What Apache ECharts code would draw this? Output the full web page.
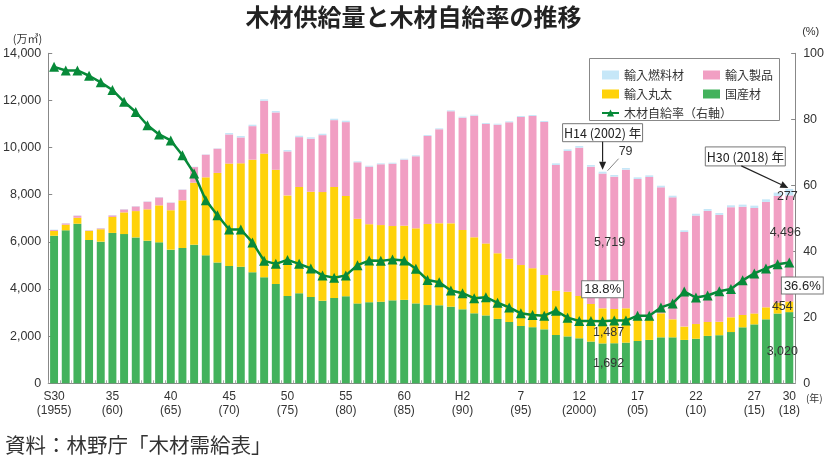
<!DOCTYPE html>
<html><head><meta charset="utf-8">
<script src="https://cdn.jsdelivr.net/npm/echarts@6/dist/echarts.min.js"></script>
<style>html,body{margin:0;padding:0;background:#fff}#c{width:827px;height:467px}</style>
</head><body><div id="c"></div>
<script>
const years = ['1955','1956','1957','1958','1959','1960','1961','1962','1963','1964','1965','1966','1967','1968','1969','1970','1971','1972','1973','1974','1975','1976','1977','1978','1979','1980','1981','1982','1983','1984','1985','1986','1987','1988','1989','1990','1991','1992','1993','1994','1995','1996','1997','1998','1999','2000','2001','2002','2003','2004','2005','2006','2007','2008','2009','2010','2011','2012','2013','2014','2015','2016','2017','2018'];
// 国産材
const domestic = [6260,6490,6770,6080,6010,6380,6330,6190,6050,5980,5670,5740,5880,5430,5120,4980,4940,4710,4500,4210,3700,3820,3660,3500,3620,3690,3390,3440,3460,3520,3540,3390,3320,3310,3250,3140,2970,2880,2730,2600,2430,2380,2290,2050,1990,1910,1770,1692,1700,1725,1794,1840,1950,1950,1840,1890,2010,2040,2175,2375,2500,2715,2960,3020];
// 輸入丸太
const importLogs = [200,238,254,382,526,678,921,1116,1331,1570,1672,2024,2630,3309,3805,4340,4392,4777,5244,4849,4272,4509,4467,4611,4709,4255,3588,3309,3253,3152,3146,3185,3437,3479,3536,3364,3224,3055,2787,2686,2587,2503,2303,1879,1892,1794,1599,1487,1455,1456,934,878,1018,764,566,624,595,569,624,522,466,509,467,454];
// 輸入製品
const importProducts = [45,57,88,26,39,67,128,200,324,338,321,451,663,960,1029,1238,1099,1423,2243,2432,1865,2114,2248,2417,2836,3135,2399,2442,2579,2646,2802,3057,3736,3988,4755,4766,5160,5067,5456,5788,6282,6458,6494,5333,5974,6292,5821,5719,5611,5882,5940,6035,5344,5174,4014,4600,4709,4535,4672,4593,4471,4471,4523,4496];
// 輸入燃料材
const importFuel = [15,15,15,15,15,15,15,15,15,15,15,15,15,15,15,60,60,60,60,60,60,60,60,60,60,60,40,40,40,40,40,40,40,40,40,40,40,40,40,40,40,40,40,70,70,70,70,79,70,70,70,70,70,70,70,80,80,80,80,90,100,110,140,277];
// 木材自給率（%）
const selfRate = [95.9,94.8,94.8,93.2,91.2,88.9,85.3,82.2,78.2,75.4,73.6,69.1,63.6,55.5,50.9,46.6,46.6,42.7,37.1,36.2,37.4,36.2,34.8,32.7,32.0,32.7,35.8,37.2,37.1,37.5,37.2,34.7,31.3,30.6,28.1,27.3,25.8,26.1,24.4,23.0,21.2,20.7,20.5,22.0,19.9,18.9,18.9,18.8,19.0,19.0,20.5,20.5,23.0,24.2,27.8,26.0,26.6,27.9,28.6,31.2,33.3,34.8,36.1,36.6];
const tickYears = ['1955','1960','1965','1970','1975','1980','1985','1990','1995','2000','2005','2010','2015','2018'];
const tickTexts = ['S30\n(1955)','35\n(60)','40\n(65)','45\n(70)','50\n(75)','55\n(80)','60\n(85)','H2\n(90)','7\n(95)','12\n(2000)','17\n(05)','22\n(10)','27\n(15)','30\n(18)'];

const C_GREEN = '#43b25c', C_YELLOW = '#ffd20a', C_PINK = '#f19fc3', C_BLUE = '#c6e7f8', C_LINE = '#078a39';
const FONT = '"Noto Sans CJK JP", sans-serif';
const NUMFONT = '"Liberation Sans", Arial, sans-serif';
const i02 = years.indexOf('2002'), i18 = years.indexOf('2018');
const fmt = v => v.toLocaleString('en-US');
const lab = (offset) => ({show:true, position:'inside', offset, color:'#333', fontFamily:NUMFONT, fontSize:12.5, textBorderWidth:0, formatter: p => fmt(p.value)});
function withLabels(arr, spec) {
  return arr.map((v,i) => spec[i] ? {value:v, label: spec[i]} : v);
}

const barBase = {type:'bar', stack:'t', barCategoryGap:'32%', xAxisIndex:0, yAxisIndex:0};
const option = {
  animation:false,
  textStyle:{fontFamily:FONT},
  title:[
    {text:'木材供給量と木材自給率の推移', left:'center', top:0, textStyle:{fontFamily:FONT, fontSize:24, fontWeight:'bold', color:'#222'}},
    {text:'資料：林野庁「木材需給表」', left:0, top:430, textStyle:{fontFamily:FONT, fontSize:20.5, fontWeight:'normal', color:'#333'}}
  ],
  grid:{left:47, right:29, top:53.3, bottom:83.7},
  legend:[
    {orient:'vertical', left:596, top:64, itemWidth:17, itemHeight:9, itemGap:7, textStyle:{fontFamily:FONT, fontSize:12, color:'#333'},
     data:[{name:'輸入燃料材', icon:'rect'},{name:'輸入丸太', icon:'rect'},{name:'木材自給率（右軸）'}]},
    {orient:'vertical', left:698, top:64, itemWidth:17, itemHeight:9, itemGap:7, textStyle:{fontFamily:FONT, fontSize:12, color:'#333'},
     data:[{name:'輸入製品', icon:'rect'},{name:'国産材', icon:'rect'}]}
  ],
  xAxis:{type:'category', data:years, name:'(年)', nameLocation:'end', nameGap:7,
    nameTextStyle:{fontFamily:FONT, fontSize:10, color:'#333', verticalAlign:'top', padding:[10,0,0,0]},
    axisLine:{lineStyle:{color:'#888', width:1}},
    axisTick:{show:true, inside:true, length:3, interval:0, lineStyle:{color:'#aaa'}},
    axisLabel:{interval:(idx, val) => tickYears.includes(val), formatter: val => tickTexts[tickYears.indexOf(val)],
      fontFamily:NUMFONT, fontSize:12, lineHeight:14, color:'#333', margin:6}},
  yAxis:[
    {type:'value', min:0, max:14000, interval:2000, name:'(万㎥)', nameLocation:'end', nameGap:9,
     nameTextStyle:{fontFamily:FONT, fontSize:11, color:'#333', align:'right', padding:[0,6,0,0]},
     axisLine:{show:true, lineStyle:{color:'#888'}}, axisTick:{show:true, inside:true, length:4, lineStyle:{color:'#888'}},
     splitLine:{show:false}, axisLabel:{fontFamily:NUMFONT, fontSize:12.5, color:'#333', margin:7, formatter: v => fmt(v)}},
    {type:'value', min:0, max:100, interval:20, name:'(%)', nameLocation:'end', nameGap:16,
     nameTextStyle:{fontFamily:NUMFONT, fontSize:11, color:'#333', align:'left', padding:[0,0,0,7]},
     axisLine:{show:true, lineStyle:{color:'#888'}}, axisTick:{show:true, inside:true, length:4, lineStyle:{color:'#888'}},
     splitLine:{show:false}, axisLabel:{fontFamily:NUMFONT, fontSize:12.5, color:'#333', margin:8}}
  ],
  series:[
    Object.assign({}, barBase, {name:'国産材', itemStyle:{color:C_GREEN},
      data: withLabels(domestic, {[i02]: lab([6,0]), [i18]: lab([-7,4])})}),
    Object.assign({}, barBase, {name:'輸入丸太', itemStyle:{color:C_YELLOW},
      data: withLabels(importLogs, {[i02]: lab([6,7]), [i18]: lab([-7,0])})}),
    Object.assign({}, barBase, {name:'輸入製品', itemStyle:{color:C_PINK},
      data: withLabels(importProducts, {[i02]: lab([7,2]), [i18]: lab([-4,-16])})}),
    Object.assign({}, barBase, {name:'輸入燃料材', itemStyle:{color:C_BLUE},
      data: withLabels(importFuel, {[i18]: lab([-2,4])})}),
    {type:'line', name:'木材自給率（右軸）', yAxisIndex:1, z:5, symbol:'triangle', symbolSize:10, showAllSymbol:true,
     lineStyle:{color:C_LINE, width:2.5}, itemStyle:{color:C_LINE},
     data: withLabels(selfRate, {
       [i02]: {show:true, position:'top', distance:19, formatter: p => p.value + '%', color:'#222', fontFamily:NUMFONT, fontSize:13,
               backgroundColor:'#fff', borderColor:'#777', borderWidth:1, padding:[2,2,1,2]},
       [i18]: {show:true, position:'bottom', distance:10, offset:[13,0], formatter: p => p.value + '%', color:'#222', fontFamily:NUMFONT, fontSize:13,
               backgroundColor:'#fff', borderColor:'#777', borderWidth:1, padding:[2,2,1,2]}
     })}
  ]
};
const chart = echarts.init(document.getElementById('c'), null, {renderer:'canvas'});
chart.setOption(option);

const total = i => domestic[i] + importLogs[i] + importProducts[i] + importFuel[i];
const p02 = chart.convertToPixel({xAxisIndex:0, yAxisIndex:0}, [years[i02], total(i02)]);
const p18 = chart.convertToPixel({xAxisIndex:0, yAxisIndex:0}, [years[i18], total(i18)]);

function arrow(x1,y1,x2,y2){
  const a = Math.atan2(y2-y1, x2-x1), L = 8, W = 3.5;
  const bx = x2 - L*Math.cos(a), by = y2 - L*Math.sin(a);
  return [
    {type:'line', shape:{x1, y1, x2:bx, y2:by}, style:{stroke:'#222', lineWidth:1.2}, z:20},
    {type:'polygon', shape:{points:[[x2,y2],[bx - W*Math.sin(a), by + W*Math.cos(a)],[bx + W*Math.sin(a), by - W*Math.cos(a)]]}, style:{fill:'#222'}, z:20}
  ];
}
function boxText(cx, top, w, h, text){
  return [
    {type:'rect', shape:{x:cx-w/2, y:top, width:w, height:h}, style:{fill:'#fff', stroke:'#777', lineWidth:1}, z:20},
    {type:'text', x:cx, y:top+h/2+0.5, style:{text, fill:'#222', font:'12.5px ' + FONT, textAlign:'center', textVerticalAlign:'middle'}, z:21}
  ];
}
const gfx = [
  {type:'rect', shape:{x:589.5, y:58.5, width:190, height:62}, style:{fill:'#fff', stroke:'#888', lineWidth:1}, z:1},
  ...boxText(p02[0], p02[1]-48, 80, 18, 'H14 (2002) 年'),
  ...arrow(p02[0], p02[1]-30, p02[0], p02[1]-2),
  {type:'line', shape:{x1:p02[0]+5, y1:p02[1]-1, x2:p02[0]+16, y2:p02[1]-13}, style:{stroke:'#666', lineWidth:0.8}, z:20},
  {type:'text', x:p02[0]+23, y:p02[1]-20, style:{text: fmt(importFuel[i02]), fill:'#333', font:'12.5px ' + NUMFONT, textAlign:'center', textVerticalAlign:'middle'}, z:21},
  ...boxText(p18[0]-44, p18[1]-42, 80, 19, 'H30 (2018) 年'),
  ...arrow(p18[0]-48, p18[1]-23, p18[0]-1, p18[1]-1)
];
chart.setOption({graphic: gfx});
</script>
</body></html>
